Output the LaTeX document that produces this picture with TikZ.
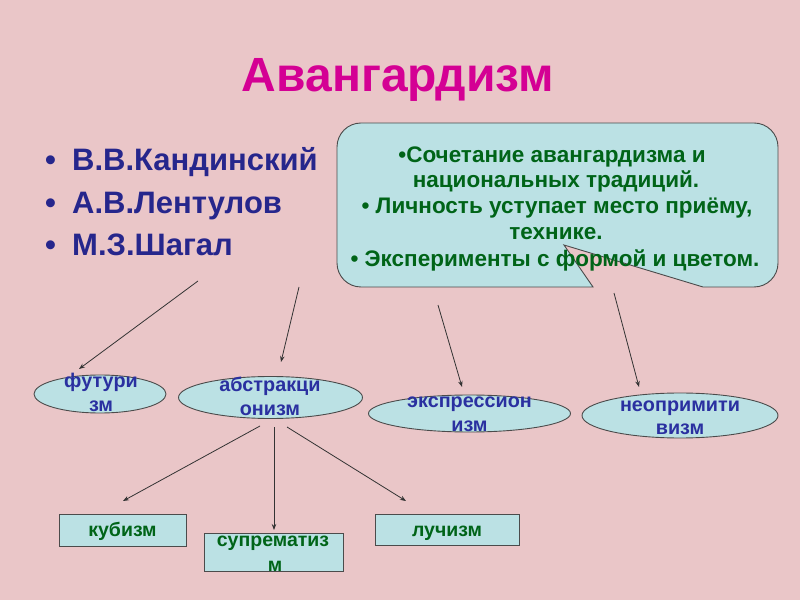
\documentclass[tikz,border=0pt]{standalone}
\usepackage{fontspec}
\setmainfont{Liberation Sans}
\usetikzlibrary{shapes.geometric,arrows.meta}
\definecolor{bgpink}{RGB}{234,198,200}
\definecolor{titlemag}{RGB}{212,0,148}
\definecolor{navy}{RGB}{38,38,140}
\definecolor{ellblue}{RGB}{42,48,160}
\definecolor{dgreen}{RGB}{0,100,24}
\definecolor{boxfill}{RGB}{187,225,228}
\definecolor{edge}{RGB}{75,75,75}
\tikzset{
  shapebox/.style={draw=edge, line width=0.9pt, fill=boxfill},
  ell/.style={shapebox, ellipse, inner sep=0pt},
  rectbox/.style={shapebox, rectangle, inner sep=0pt},
  elltext/.style={anchor=base, text=ellblue, font=\bfseries\fontsize{19.8}{22}\selectfont, inner sep=0pt},
  recttext/.style={anchor=base, text=dgreen, font=\bfseries\fontsize{19.5}{22}\selectfont, inner sep=0pt},
  calltext/.style={anchor=base, text=dgreen, font=\bfseries\fontsize{22.5}{25}\selectfont, inner sep=0pt},
  nametext/.style={anchor=base west, text=navy, font=\bfseries\fontsize{31}{36}\selectfont, inner sep=0pt},
  conn/.style={draw=black!80, line width=0.8pt, -{Stealth[length=6pt,width=4.5pt]}},
}
\begin{document}
\begin{tikzpicture}[x=1pt,y=1pt]
\fill[bgpink] (0,0) rectangle (800,600);
\useasboundingbox (0,0) rectangle (800,600);

% title
\node[anchor=base, text=titlemag, font=\bfseries\fontsize{48}{56}\selectfont, inner sep=0pt] (title) at (398,508) {Авангардизм};

% names
\node[nametext] (b1) at (45,429) {•};
\node[nametext] (n1) at (72,429) {В.В.Кандинский};
\node[nametext] (b2) at (45,386) {•};
\node[nametext] (n2) at (72,386) {А.В.Лентулов};
\node[nametext] (b3) at (45,344) {•};
\node[nametext] (n3) at (72,344) {М.З.Шагал};

% callout
\draw[shapebox] (337,337) -- (337,453) arc(180:90:24) -- (754,477) arc(90:0:24)
  -- (778,337) arc(0:-90:24) -- (703,313) -- (564,355) -- (593,313) -- (361,313)
  arc(270:180:24) -- cycle;
\node[calltext] (c1) at (552,437) {•Сочетание авангардизма и};
\node[calltext] (c2) at (556,412) {национальных традиций.};
\node[calltext] (c3) at (557,386) {• Личность уступает место приёму,};
\node[calltext] (c4) at (556,360) {технике.};
\node[calltext] (c5) at (555,333) {• Эксперименты с формой и цветом.};

% ellipses
\node[ell, minimum width=132pt, minimum height=38pt] (fut) at (100,206) {};
\node[elltext] (fut1) at (101,212) {футури};
\node[elltext] (fut2) at (101,188) {зм};

\node[ell, minimum width=184pt, minimum height=42pt] (abs) at (270.5,202.5) {};
\node[elltext] (abs1) at (270,208) {абстракци};
\node[elltext] (abs2) at (270,185) {онизм};

\node[ell, minimum width=202pt, minimum height=37pt] (exp) at (469.5,186.5) {};
\node[elltext] (exp1) at (469.5,192) {экспрессион};
\node[elltext] (exp2) at (469.5,168) {изм};

\node[ell, minimum width=196pt, minimum height=45pt] (neo) at (680,184.5) {};
\node[elltext] (neo1) at (680,189) {неопримити};
\node[elltext] (neo2) at (680,165) {визм};

% rectangles
\node[rectbox, minimum width=127pt, minimum height=32pt] (cub) at (122.5,70) {};
\node[recttext] (cubt) at (122.5,64) {кубизм};
\node[rectbox, minimum width=139pt, minimum height=38pt] (sup) at (273.5,48) {};
\node[recttext] (sup1) at (273,54) {супрематиз};
\node[recttext] (sup2) at (275,29) {м};
\node[rectbox, minimum width=144pt, minimum height=31pt] (luch) at (447,70.5) {};
\node[recttext] (lucht) at (447,64) {лучизм};

% connector coordinates
\coordinate (a1s) at (198,319); \coordinate (a1e) at (79,231);
\coordinate (a2s) at (299,313); \coordinate (a2e) at (281,238);
\coordinate (a3s) at (438,295); \coordinate (a3e) at (462,213);
\coordinate (a4s) at (614,307); \coordinate (a4e) at (639,213);
\coordinate (a5s) at (260,174); \coordinate (a5e) at (123,99);
\coordinate (a6s) at (274,173); \coordinate (a6e) at (274,70);
\coordinate (a7s) at (287,173); \coordinate (a7e) at (406,99);

\draw[conn] (a1s) -- (a1e);
\draw[conn] (a2s) -- (a2e);
\draw[conn] (a3s) -- (a3e);
\draw[conn] (a4s) -- (a4e);
\draw[conn] (a5s) -- (a5e);
\draw[conn] (a6s) -- (a6e);
\draw[conn] (a7s) -- (a7e);
\end{tikzpicture}
\end{document}
